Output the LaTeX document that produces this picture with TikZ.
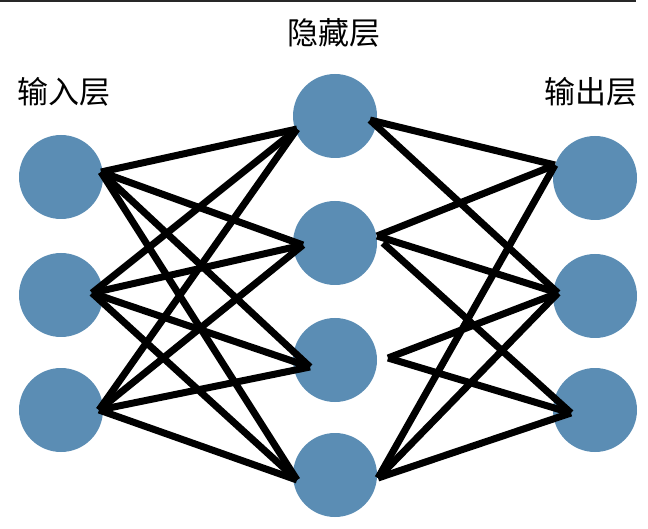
\documentclass[tikz,border=0pt]{standalone}
\usepackage{fontspec}
\newfontfamily\cjk{Noto Sans CJK SC}
\definecolor{neuronblue}{RGB}{91,141,180}
\definecolor{topgray}{RGB}{40,40,40}
\tikzset{
  neuron/.style={circle,fill=neuronblue,draw=none,minimum size=84pt,inner sep=0pt},
  link/.style={line width=7pt,black,line cap=butt},
  layerlabel/.style={font=\cjk\fontsize{31}{31}\selectfont,inner sep=0pt,text=black},
  topline/.style={line width=2pt,topgray}
}
\begin{document}
\begin{tikzpicture}[x=1pt,y=-1pt]
\useasboundingbox (0,0) rectangle (648,529);
% top rule
\coordinate (tl1) at (0,1);
\coordinate (tl2) at (636,1);
\draw[topline] (tl1) -- (tl2);
% labels
\node[layerlabel] (lh) at (334,33) {隐藏层};
\node[layerlabel] (li) at (64,92) {输入层};
\node[layerlabel] (lo) at (591,92) {输出层};
% neurons
\node[neuron] (i1) at (61,177) {};
\node[neuron] (i2) at (61,295) {};
\node[neuron] (i3) at (61,410) {};
\node[neuron] (h1) at (335,116) {};
\node[neuron] (h2) at (335,243) {};
\node[neuron] (h3) at (335,360) {};
\node[neuron] (h4) at (335,475) {};
\node[neuron] (o1) at (595,178) {};
\node[neuron] (o2) at (595,296) {};
\node[neuron] (o3) at (595,410) {};
% connection end points
\coordinate (i1p) at (101,172);
\coordinate (i2p) at (92,293);
\coordinate (i3p) at (99,410);
\coordinate (h1L) at (297,129);
\coordinate (h1R) at (370,120);
\coordinate (h2L) at (303,245);
\coordinate (h2Ra) at (377,236);
\coordinate (h2Rb) at (383,243);
\coordinate (h3L) at (310,367);
\coordinate (h3R) at (388,358);
\coordinate (h4L) at (297,480);
\coordinate (h4R) at (378,478);
\coordinate (o1p) at (555,165);
\coordinate (o2p) at (558,293);
\coordinate (o3p) at (571,413);
% input -> hidden
\foreach \a in {i1p,i2p,i3p}{
  \foreach \b in {h1L,h2L,h3L,h4L}{
    \draw[link] (\a) -- (\b);
  }
}
% hidden -> output
\draw[link] (h1R) -- (o1p);
\draw[link] (h1R) -- (o2p);
\draw[link] (h2Ra) -- (o1p);
\draw[link] (h2Ra) -- (o2p);
\draw[link] (h2Rb) -- (o3p);
\draw[link] (h3R) -- (o2p);
\draw[link] (h3R) -- (o3p);
\draw[link] (h4R) -- (o1p);
\draw[link] (h4R) -- (o2p);
\draw[link] (h4R) -- (o3p);
\end{tikzpicture}
\end{document}
